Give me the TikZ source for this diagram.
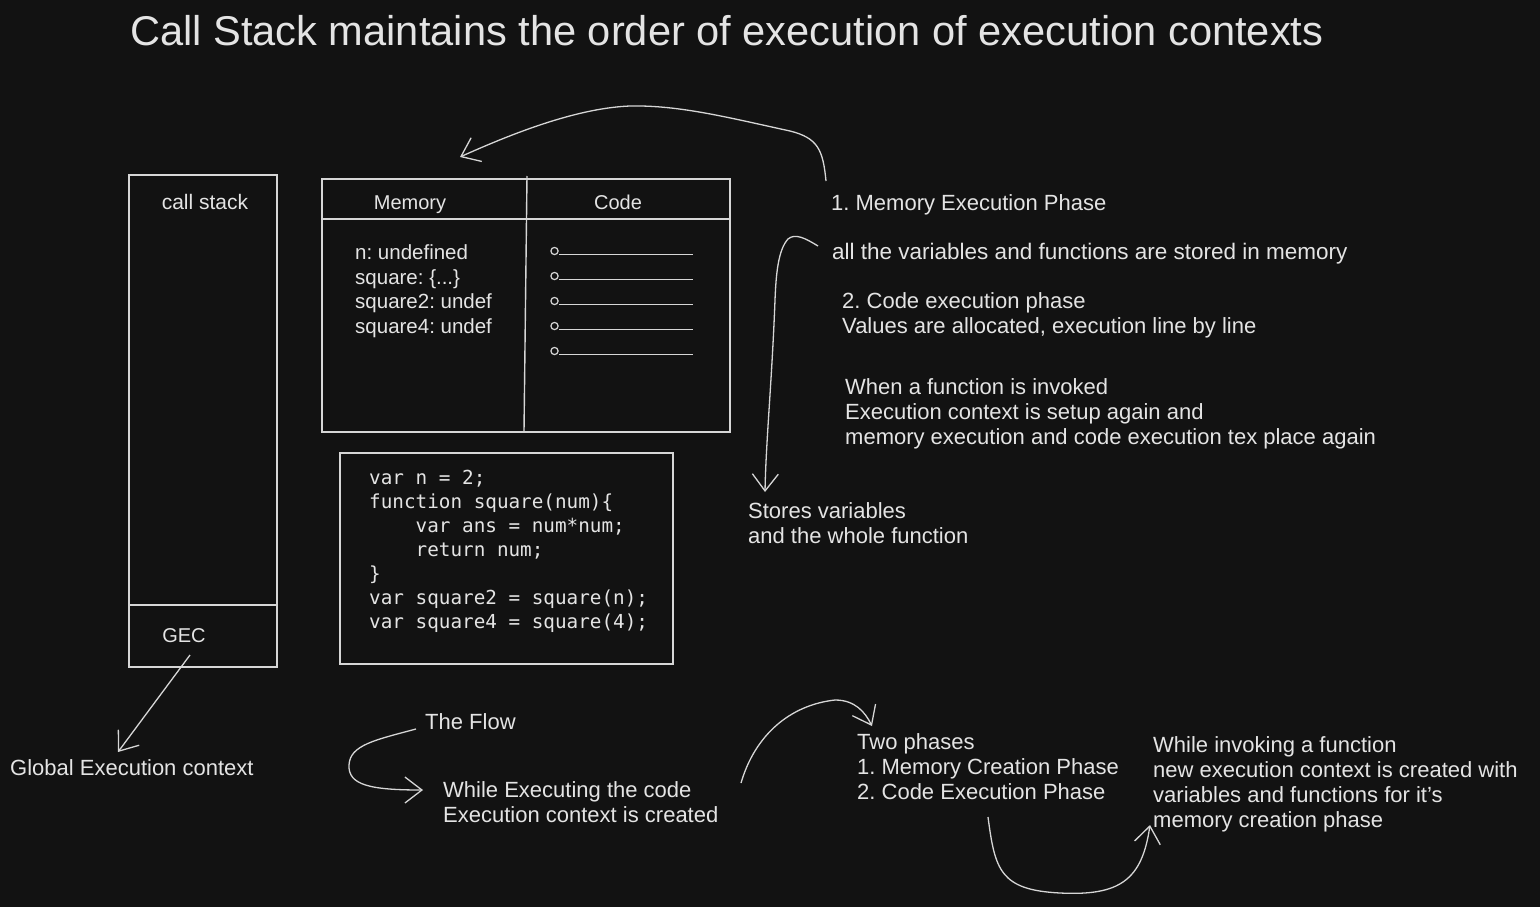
\documentclass[tikz,border=0pt]{standalone}
\usepackage{fontspec}
\setmainfont{Liberation Sans}
\newfontfamily\codefont{DejaVu Sans Mono}
\usetikzlibrary{arrows.meta}
\frenchspacing
\definecolor{bgc}{HTML}{121212}
\definecolor{ink}{HTML}{E4E4E4}
\definecolor{strk}{HTML}{D6D6D6}
\tikzset{
  txt/.style={text=ink, font=\fontsize{22}{25}\selectfont, anchor=west, align=left, inner sep=0pt},
  memtxt/.style={text=ink, font=\fontsize{20.5}{24.5}\selectfont, anchor=west, align=left, inner sep=0pt},
  hdr/.style={text=ink, font=\fontsize{20}{24}\selectfont, inner sep=0pt, anchor=base},
  codetxt/.style={text=ink, font=\codefont\fontsize{19.3}{24}\selectfont, anchor=west, align=left, inner sep=0pt},
  boxline/.style={draw=strk, line width=1.4pt},
  arr/.style={draw=strk, line width=1.3pt, -{Straight Barb[length=17pt,width=26pt,line width=1.3pt]}},
  bullet/.style={draw=strk, line width=1.2pt}
}
\begin{document}
\begin{tikzpicture}[x=1pt,y=-1pt]
\fill[bgc] (0,0) rectangle (1540,907);
\useasboundingbox (0,0) rectangle (1540,907);

% title
\node[text=ink, font=\fontsize{41.6}{45}\selectfont, inner sep=0pt, anchor=base west] (title) at (130,46) {Call Stack maintains the order of execution of execution contexts};

% call stack box
\draw[boxline] (129,175) rectangle (277,667);
\draw[boxline] (129,605) -- (277,605);
\node[hdr, font=\fontsize{21}{24}\selectfont] (cs) at (205,209) {call stack};
\node[hdr] (gec) at (184,642) {GEC};

% memory / code table
\draw[boxline] (322,179) rectangle (730,432);
\draw[boxline] (322,219) -- (730,219);
\draw[boxline] (527,176) -- (524,431);
\node[hdr] (mem) at (410,209) {Memory};
\node[hdr] (codeh) at (618,209) {Code};
\node[memtxt] (memvals) at (355,291) {n: undefined\\square: \{...\}\\square2: undef\\square4: undef};
\foreach \yy [count=\i] in {251,276,301,326,351}{
  \draw[bullet] (554.5,\yy) circle (3.6);
  \draw[bullet] (559,\yy+3.5) -- (693,\yy+3.5);
}

% code box
\draw[boxline] (340,453) rectangle (673,664);
\node[codetxt] (code) at (369,551) {var n = 2;\\function square(num)\{\\\hphantom{xxxx}var ans = num*num;\\\hphantom{xxxx}return num;\\\}\\var square2 = square(n);\\var square4 = square(4);};

% right annotations
\node[txt, anchor=base west] (mep) at (831,210) {1. Memory Execution Phase};
\node[txt, anchor=base west, font=\fontsize{22.5}{25}\selectfont] (allv) at (832,259) {all the variables and functions are stored in memory};
\node[txt] (cep) at (842,315.5) {2. Code execution phase\\Values are allocated, execution line by line};
\node[txt] (wfi) at (845,414) {When a function is invoked\\Execution context is setup again and\\memory execution and code execution tex place again};
\node[txt] (stores) at (748,523.5) {Stores variables\\and the whole function};

% bottom annotations
\node[txt, anchor=base west] (glob) at (10,775) {Global Execution context};
\node[txt, anchor=base west] (flow) at (425,729) {The Flow};
\node[txt] (wexec) at (443,802.5) {While Executing the code\\Execution context is created};
\node[txt] (two) at (857,767) {Two phases\\1. Memory Creation Phase\\2. Code Execution Phase};
\node[txt] (winv) at (1153,784.5) {While invoking a function\\new execution context is created with\\variables and functions for it{\char"0027}s\\memory creation phase};

% connector end points
\coordinate (a1s) at (826,181);
\coordinate (a1e) at (460,157);
\coordinate (a2s) at (818,246);
\coordinate (a2e) at (765,492);
\coordinate (a3s) at (190,655);
\coordinate (a3e) at (118,752);
\coordinate (a4s) at (416,729);
\coordinate (a4e) at (423,790);
\coordinate (a5s) at (741,783);
\coordinate (a5e) at (872,726);
\coordinate (a6s) at (988,817);
\coordinate (a6e) at (1150,825);

% connectors
\draw[arr] (a1s) .. controls (823,150) and (818,138) .. (790,131)
  .. controls (730,118) and (680,105) .. (630,106)
  .. controls (580,108) and (520,130) .. (a1e);
\draw[arr] (a2s) .. controls (805,238) and (795,233) .. (788,239)
  .. controls (778,250) and (776,275) .. (775,300)
  .. controls (772,380) and (766,440) .. (a2e);
\draw[arr] (a3s) -- (a3e);
\draw[arr] (a4s) .. controls (375,740) and (350,745) .. (349,765)
  .. controls (348,785) and (370,790) .. (a4e);
\draw[arr] (a5s) .. controls (755,735) and (790,705) .. (835,700)
  .. controls (855,700) and (865,712) .. (a5e);
\draw[arr] (a6s) .. controls (995,870) and (1000,890) .. (1060,893)
  .. controls (1120,896) and (1142,880) .. (a6e);
\end{tikzpicture}
\end{document}
